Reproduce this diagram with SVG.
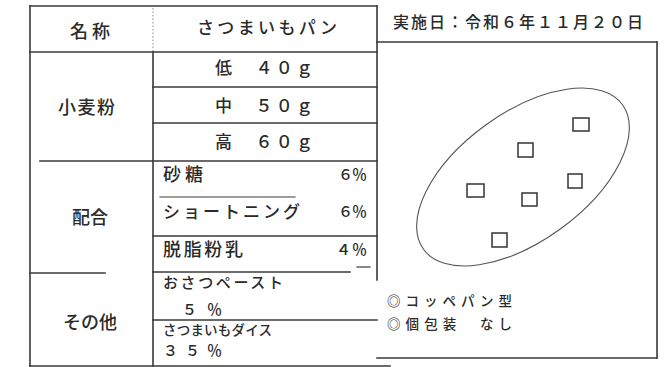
<svg xmlns="http://www.w3.org/2000/svg" width="667" height="367" viewBox="0 0 667 367">
<style>
  .ln{stroke:#3a3a3a;stroke-width:1.6;fill:none;stroke-linecap:square}
  .fn{stroke:#8a8a8a;stroke-width:1;fill:none;stroke-dasharray:1.5 2}
  .t{font-family:"Noto Sans CJK JP","Noto Sans",sans-serif;fill:#2a2a2a;font-size:17px;font-weight:500}
  .l{font-size:18px}
  .s{font-size:15px}
  .xs{font-size:13.5px}
  .sq{stroke:#333;stroke-width:1.5;fill:none}
</style>
<rect width="667" height="367" fill="#fff"/>
<g id="grid">
  <line class="ln" x1="30" y1="6" x2="377" y2="6"/>
  <line class="ln" x1="30" y1="6" x2="30" y2="366"/>
  <line class="fn" x1="153" y1="8" x2="153" y2="52"/>
  <line class="ln" x1="153" y1="52" x2="153" y2="366"/>
  <line class="ln" x1="377" y1="6" x2="377" y2="280"/>
  <line class="ln" x1="30" y1="52" x2="377" y2="52"/>
  <line class="ln" x1="153" y1="87" x2="377" y2="87"/>
  <line class="ln" x1="153" y1="123" x2="377" y2="123"/>
  <line class="ln" x1="40" y1="161" x2="377" y2="161"/>
  <line class="ln" x1="160" y1="197" x2="295" y2="197" style="stroke-width:1.2"/>
  <line class="ln" x1="153" y1="236" x2="377" y2="236"/>
  <line class="ln" x1="30" y1="273" x2="105" y2="273"/>
  <line class="ln" x1="153" y1="272" x2="350" y2="272"/>
  <line class="ln" x1="357" y1="267" x2="370" y2="267" style="stroke-width:1.2"/>
  <line class="ln" x1="153" y1="320" x2="377" y2="320"/>
  <line class="ln" x1="30" y1="366" x2="390" y2="366"/>
</g>
<g id="panel">
  <line class="ln" x1="377" y1="42" x2="657" y2="42"/>
  <line class="ln" x1="657" y1="42" x2="657" y2="358"/>
  <line class="ln" x1="377" y1="358" x2="657" y2="358"/>
</g>
<g id="header">
  <text class="t l" x="70" y="38" textLength="40">名称</text>
  <text class="t" x="197" y="34" textLength="140">さつまいもパン</text>
  <text class="t" x="393" y="28" textLength="250" style="font-size:16px">実施日：令和６年１１月２０日</text>
</g>
<g id="flour">
  <text class="t l" x="58" y="114" textLength="57">小麦粉</text>
  <text class="t" x="215" y="74" textLength="98">低　４０ｇ</text>
  <text class="t" x="215" y="112" textLength="98">中　５０ｇ</text>
  <text class="t" x="215" y="148" textLength="98">高　６０ｇ</text>
</g>
<g id="mix">
  <text class="t l" x="72" y="224" textLength="36">配合</text>
  <text class="t l" x="163" y="181" textLength="40">砂糖</text>
  <text class="t s" x="338" y="180" textLength="29">６％</text>
  <text class="t" x="163" y="218" textLength="137">ショートニング</text>
  <text class="t s" x="338" y="217" textLength="29">６％</text>
  <text class="t l" x="163" y="256" textLength="80">脱脂粉乳</text>
  <text class="t s" x="336" y="255" textLength="31">４％</text>
</g>
<g id="other">
  <text class="t l" x="63" y="329" textLength="54">その他</text>
  <text class="t s" x="163" y="288" textLength="120">おさつペースト</text>
  <text class="t s" x="182" y="315" textLength="40">５％</text>
  <text class="t xs" x="163" y="335" textLength="109">さつまいもダイス</text>
  <text class="t s" x="163" y="356" textLength="59">３５％</text>
</g>
<g id="shape">
  <ellipse cx="523" cy="177" rx="123" ry="64" transform="rotate(-36 523 177)" style="stroke:#555;stroke-width:1.1;fill:none"/>
  <rect class="sq" x="573" y="118" width="16" height="13"/>
  <rect class="sq" x="518" y="143" width="15" height="14"/>
  <rect class="sq" x="568" y="174" width="14" height="14"/>
  <rect class="sq" x="467" y="184" width="17" height="13"/>
  <rect class="sq" x="522" y="193" width="15" height="13"/>
  <rect class="sq" x="492" y="233" width="15" height="14"/>
</g>
<g id="notes">
  <text class="t xs" x="387" y="306" textLength="125">◎コッペパン型</text>
  <text class="t xs" x="387" y="329" textLength="125">◎個包装　なし</text>
</g>
<g id="connectors"></g>
</svg>
